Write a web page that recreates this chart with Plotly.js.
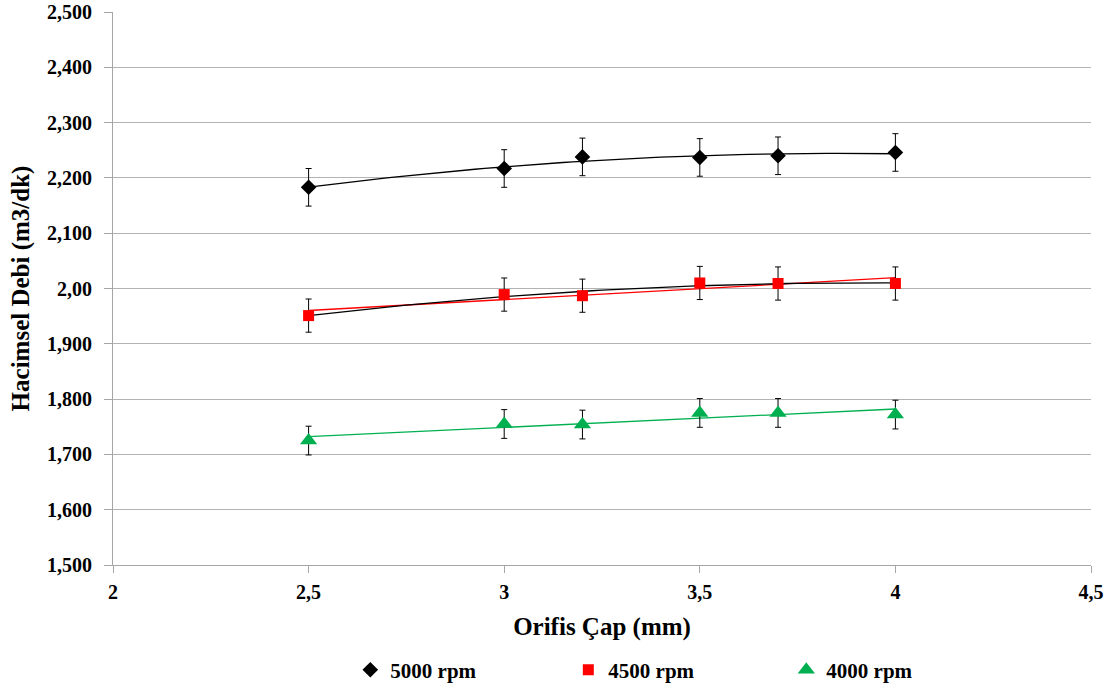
<!DOCTYPE html>
<html><head><meta charset="utf-8">
<script src="https://cdn.plot.ly/plotly-3.0.1.min.js"></script>
<style>html,body{margin:0;padding:0;background:#fff}#chart{width:1116px;height:689px}</style>
</head><body><div id="chart"></div>
<script>
const orifice = [2.5, 3, 3.2, 3.5, 3.7, 4];
const flow5000 = [2183, 2217, 2238, 2237, 2240, 2246];
const err5000 = [34, 34, 34, 34, 34, 34];
const flow4500 = [1951, 1989, 1987, 2010, 2009, 2009];
const err4500 = [30, 30, 30, 30, 30, 30];
const flow4000 = [1725, 1755, 1754, 1775, 1775, 1772];
const err4000 = [26, 26, 26, 26, 26, 26];
const yTickVals = [1500, 1600, 1700, 1800, 1900, 2000, 2100, 2200, 2300, 2400, 2500];
const yTickText = ['1,500','1,600','1,700','1,800','1,900','2,00','2,100','2,200','2,300','2,400','2,500'];
const xTickVals = [2, 2.5, 3, 3.5, 4, 4.5];
const xTickText = ['2','2,5','3','3,5','4','4,5'];
const seriesNames = ['5000 rpm','4500 rpm','4000 rpm'];

// least-squares polynomial fit (trendline computed from the data)
function polyfit(xs, ys, deg) {
  const n = deg + 1;
  const A = Array.from({length:n}, () => new Array(n + 1).fill(0));
  for (let i = 0; i < xs.length; i++) {
    for (let r = 0; r < n; r++) {
      for (let c = 0; c < n; c++) A[r][c] += Math.pow(xs[i], r + c);
      A[r][n] += ys[i] * Math.pow(xs[i], r);
    }
  }
  for (let p = 0; p < n; p++) {
    let m = p;
    for (let r = p + 1; r < n; r++) if (Math.abs(A[r][p]) > Math.abs(A[m][p])) m = r;
    [A[p], A[m]] = [A[m], A[p]];
    for (let r = 0; r < n; r++) {
      if (r === p) continue;
      const f = A[r][p] / A[p][p];
      for (let c = p; c <= n; c++) A[r][c] -= f * A[p][c];
    }
  }
  return A.map((row, i) => row[n] / row[i]);
}
function trend(xs, ys, deg) {
  const co = polyfit(xs, ys, deg);
  const x0 = Math.min(...xs), x1 = Math.max(...xs);
  const tx = [], ty = [];
  for (let k = 0; k <= 60; k++) {
    const x = x0 + (x1 - x0) * k / 60;
    tx.push(x);
    ty.push(co.reduce((s, c, i) => s + c * Math.pow(x, i), 0));
  }
  return {x: tx, y: ty};
}

const t5000 = trend(orifice, flow5000, 2);
const t4500p = trend(orifice, flow4500, 2);
const t4500l = trend(orifice, flow4500, 1);
const t4000l = trend(orifice, flow4000, 1);

const lineTrace = (t, color) => ({x: t.x, y: t.y, mode: 'lines', type: 'scatter',
  line: {color: color, width: 1.3}, showlegend: false, hoverinfo: 'skip'});
const errBar = e => ({type: 'data', array: e, visible: true, color: '#000', thickness: 1, width: 3});

const data = [
  lineTrace(t5000, '#000000'),
  lineTrace(t4500l, '#ff0000'),
  lineTrace(t4500p, '#000000'),
  lineTrace(t4000l, '#00b050'),
  {x: orifice, y: flow5000, name: seriesNames[0], mode: 'markers', type: 'scatter',
   marker: {symbol: 'diamond', size: 12, color: '#000000'}, error_y: errBar(err5000)},
  {x: orifice, y: flow4500, name: seriesNames[1], mode: 'markers', type: 'scatter',
   marker: {symbol: 'square', size: 11, color: '#ff0000'}, error_y: errBar(err4500)},
  {x: orifice, y: flow4000, name: seriesNames[2], mode: 'markers', type: 'scatter',
   marker: {symbol: 'triangle-up', size: 15, color: '#00b050'}, error_y: errBar(err4000)}
];

const fontFam = 'Liberation Serif, Times New Roman, serif';
const layout = {
  width: 1116, height: 689,
  margin: {l: 113, r: 25, t: 12, b: 124, autoexpand: false},
  paper_bgcolor: '#fff', plot_bgcolor: '#fff',
  font: {family: fontFam, size: 20, color: '#000', weight: 'bold'},
  xaxis: {range: [2, 4.5], tickvals: xTickVals, ticktext: xTickText,
    showgrid: false, zeroline: false, showline: true, linecolor: '#a6a6a6', linewidth: 1,
    ticks: 'outside', ticklen: 7, tickcolor: '#a6a6a6', ticklabelstandoff: 2,
    tickfont: {family: fontFam, size: 20, weight: 'bold'},
    title: {text: 'Orifis Çap (mm)', font: {family: fontFam, size: 25, weight: 'bold'}, standoff: 15}},
  yaxis: {range: [1500, 2500], tickvals: yTickVals, ticktext: yTickText,
    showgrid: true, gridcolor: '#b3b3b3', gridwidth: 1, zeroline: false,
    showline: true, linecolor: '#a6a6a6', linewidth: 1,
    ticks: 'outside', ticklen: 8, tickcolor: '#a6a6a6', ticklabelstandoff: 8,
    tickfont: {family: fontFam, size: 20, weight: 'bold'},
    title: {text: 'Hacimsel Debi (m3/dk)', font: {family: fontFam, size: 25, weight: 'bold'}, standoff: 10}},
  showlegend: true,
  legend: {orientation: 'h', x: 0.577, xanchor: 'center', y: -0.19, yanchor: 'middle',
    font: {family: fontFam, size: 21, weight: 'bold'}, entrywidth: 173, entrywidthmode: 'pixels',
    itemwidth: 30},
  hovermode: false
};
Plotly.newPlot('chart', data, layout, {displayModeBar: false, staticPlot: true});
</script></body></html>
